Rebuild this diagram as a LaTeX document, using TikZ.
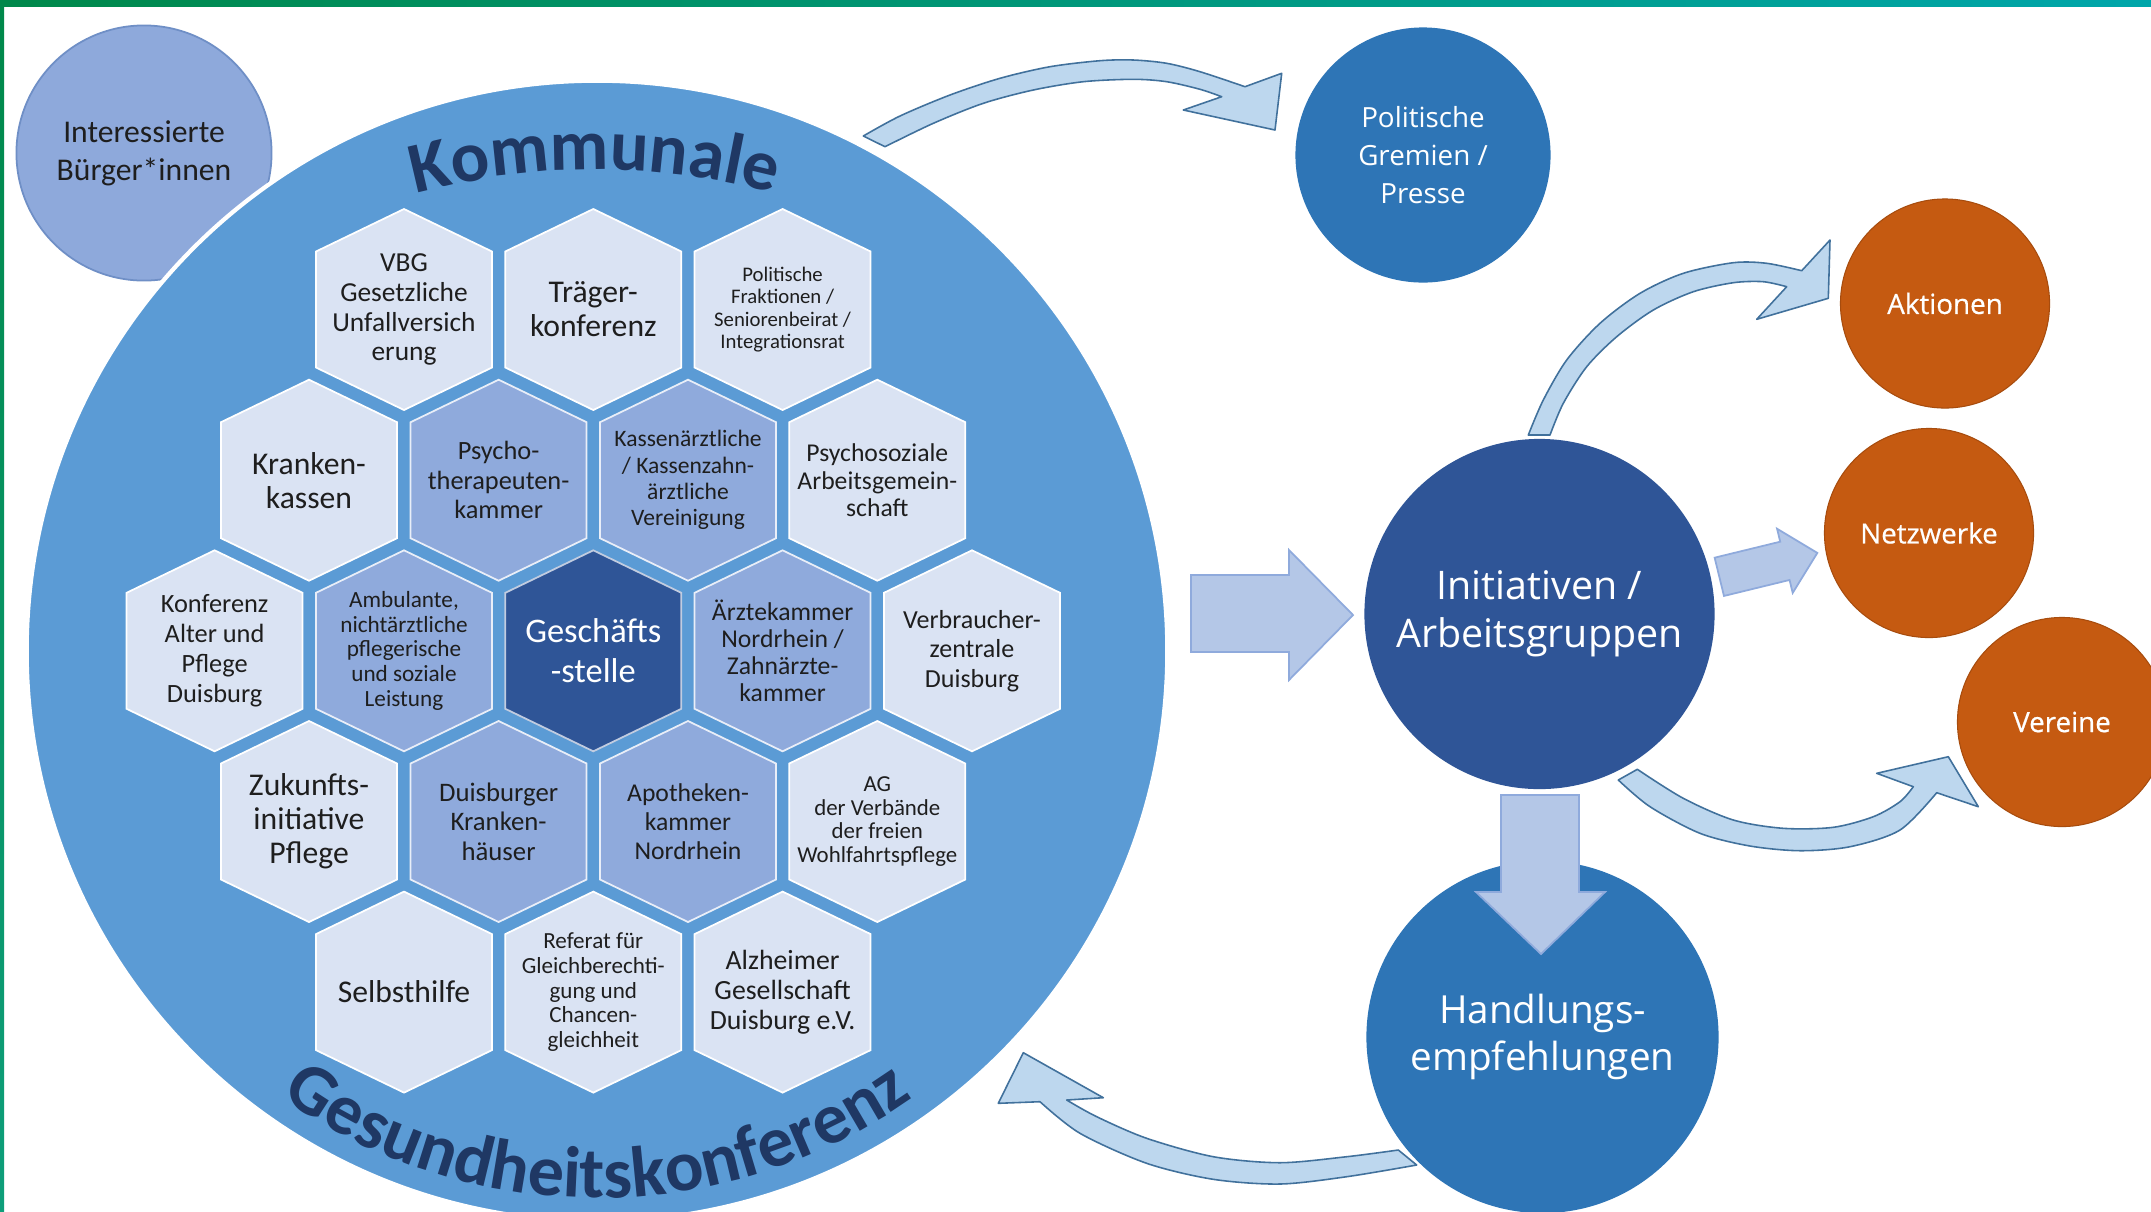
\documentclass[tikz,border=0pt]{standalone}
\usepackage{fontspec}
\setmainfont{Carlito}
\newfontfamily\osans{Open Sans}
\newfontfamily\osemi[FakeBold=0.5]{Open Sans}
\usetikzlibrary{decorations.text}
\definecolor{bigblue}{HTML}{5B9BD5}
\definecolor{hexlight}{HTML}{DAE3F3}
\definecolor{hexmid}{HTML}{8FAADC}
\definecolor{hexdark}{HTML}{2F5597}
\definecolor{hexink}{HTML}{1E1E1E}
\definecolor{navytxt}{HTML}{1F3864}
\definecolor{citizen}{HTML}{8EA9DB}
\definecolor{citizenedge}{HTML}{6F8FC6}
\definecolor{midblue}{HTML}{2E75B6}
\definecolor{darkblue}{HTML}{2F5597}
\definecolor{rust}{HTML}{C55A11}
\definecolor{arrowfill}{HTML}{BDD7EE}
\definecolor{arrowedge}{HTML}{41719C}
\definecolor{blockfill}{HTML}{B4C7E7}
\definecolor{blockedge}{HTML}{8FAADC}
\definecolor{barA}{HTML}{00884A}
\definecolor{barB}{HTML}{00A6AA}
\definecolor{barC}{HTML}{0E9E7A}
\newcommand{\hexcell}[7]{%
  \filldraw[#4] (#2,#3) ++(0,-100.5) -- ++(88,42.5) -- ++(0,116) -- ++(-88,42.5) -- ++(-88,-42.5) -- ++(0,-116) -- cycle;
  \node[hextext, #4 text, font=\fontsize{#5pt}{#6pt}\selectfont] (#1) at (#2,#3) {#7};
}
\begin{document}
\begin{tikzpicture}[x=0.01cm, y=-0.01cm,
  hexL/.style={fill=hexlight, draw=white, line width=0.5pt},
  hexL text/.style={text=hexink},
  hexM/.style={fill=hexmid, draw=white!80!hexmid, line width=0.5pt},
  hexM text/.style={text=hexink},
  hexD/.style={fill=hexdark, draw=white!70!hexdark, line width=0.5pt},
  hexD text/.style={text=white},
  hextext/.style={align=center, inner sep=0pt},
  bubble/.style={circle, inner sep=0pt, align=center, text=white},
  bentarrow/.style={fill=arrowfill, draw=arrowedge, line width=0.45pt, line join=round},
  blockarrow/.style={fill=blockfill, draw=blockedge, line width=0.5pt, line join=miter}]
\useasboundingbox (0,0) rectangle (2151,1211);
\clip (0,0) rectangle (2151,1211);
\fill[white] (0,0) rectangle (2151,1211);

% citizens circle (behind the big circle)
\node[circle, minimum size=2.55cm, inner sep=0pt, fill=citizen, draw=citizenedge, line width=0.5pt,
      align=center, text=hexink, font=\fontsize{9pt}{10.9pt}\selectfont] (citizens) at (144,153) {Interessierte\\Bürger*innen};

% big conference circle
\node[circle, minimum size=11.4cm, inner sep=0pt, fill=bigblue, draw=white, line width=1.2pt] (conf) at (597,651) {};

% hexagons
\hexcell{vbg}{404}{309.5}{hexL}{7.8}{8.5}{VBG\\Gesetzliche\\Unfallversich\\erung}
\hexcell{traeger}{593.3}{309.5}{hexL}{9}{9.7}{Träger-\\konferenz}
\hexcell{fraktionen}{782.6}{309.5}{hexL}{5.9}{6.35}{Politische\\Fraktionen /\\Seniorenbeirat /\\Integrationsrat}
\hexcell{kassen}{309}{480.2}{hexL}{9}{9.7}{Kranken-\\kassen}
\hexcell{psychokammer}{498.6}{480.2}{hexM}{7.5}{8.4}{Psycho-\\therapeuten-\\kammer}
\hexcell{kv}{688}{480.2}{hexM}{6.7}{7.5}{Kassenärztliche\\/ Kassenzahn-\\ärztliche\\Vereinigung}
\hexcell{psag}{877.3}{480.2}{hexL}{7.3}{7.9}{Psychosoziale\\Arbeitsgemein-\\schaft}
\hexcell{kap}{214.6}{650.8}{hexL}{7.5}{8.55}{Konferenz\\Alter und\\Pflege\\Duisburg}
\hexcell{ambulant}{404}{650.8}{hexM}{6.6}{7}{Ambulante,\\nichtärztliche\\pflegerische\\und soziale\\Leistung}
\hexcell{office}{593.3}{650.8}{hexD}{9.8}{11.3}{Geschäfts\\-stelle}
\hexcell{aek}{782.6}{650.8}{hexM}{7.3}{7.6}{Ärztekammer\\Nordrhein /\\Zahnärzte-\\kammer}
\hexcell{vz}{972}{650.8}{hexL}{7.4}{8.4}{Verbraucher-\\zentrale\\Duisburg}
\hexcell{zip}{309}{821.5}{hexL}{9}{9.7}{Zukunfts-\\initiative\\Pflege}
\hexcell{kh}{498.6}{821.5}{hexM}{7.6}{8.4}{Duisburger\\Kranken-\\häuser}
\hexcell{akn}{688}{821.5}{hexM}{7.3}{8.3}{Apotheken-\\kammer\\Nordrhein}
\hexcell{agw}{877.3}{821.5}{hexL}{6.5}{6.8}{AG\\der Verbände\\der freien\\Wohlfahrtspflege}
\hexcell{shilfe}{404}{992.1}{hexL}{9}{9.7}{Selbsthilfe}
\hexcell{referat}{593.3}{992.1}{hexL}{6.56}{7}{Referat für\\Gleichberechti-\\gung und\\Chancen-\\gleichheit}
\hexcell{alz}{782.6}{992.1}{hexL}{7.9}{8.5}{Alzheimer\\Gesellschaft\\Duisburg e.V.}

% arched titles
\path[decorate, decoration={text along path, text align=center, text color=navytxt,
      text={|\fontsize{20.5pt}{24pt}\selectfont\bfseries|Kommunale}}]
  (595,870) ++(255:700) arc[start angle=255, end angle=285, radius=700];
\path[decorate, decoration={text along path, text align=center, text color=navytxt,
      text={|\fontsize{20.5pt}{24pt}\selectfont\bfseries|Gesundheitskonferenz}}]
  (597,651) ++(130:547) arc[start angle=130, end angle=50, radius=547];

% right-hand circles
\node[bubble, minimum size=2.55cm, fill=midblue, font=\osans\fontsize{7.9pt}{10.9pt}\selectfont] (press) at (1423,155) {Politische\\Gremien /\\Presse};
\node[bubble, minimum size=3.5cm, fill=darkblue, font=\osans\fontsize{11.2pt}{13.6pt}\selectfont] (groups) at (1539.5,614) {Initiativen /\\Arbeitsgruppen};
\node[bubble, minimum size=3.52cm, fill=midblue, font=\osans\fontsize{11pt}{13.6pt}\selectfont] (advice) at (1542.5,1037) {Handlungs-\\empfehlungen};
\node[bubble, minimum size=2.09cm, fill=rust, draw=rust!85!black, line width=0.3pt, font=\osemi\fontsize{7.9pt}{9pt}\selectfont] (actions) at (1945,303.5) {Aktionen};
\node[bubble, minimum size=2.09cm, fill=rust, draw=rust!85!black, line width=0.3pt, font=\osemi\fontsize{7.9pt}{9pt}\selectfont] (networks) at (1929,533) {Netzwerke};
\node[bubble, minimum size=2.09cm, fill=rust, draw=rust!85!black, line width=0.3pt, font=\osemi\fontsize{7.9pt}{9pt}\selectfont] (clubs) at (2062,722) {Vereine};

% straight block arrows
\filldraw[blockarrow] (1191,575) -- (1289,575) -- (1289,550) -- (1353,615) -- (1289,680) -- (1289,652) -- (1191,652) -- cycle;
\filldraw[blockarrow] (1501,795) -- (1579,795) -- (1579,892) -- (1605,892) -- (1541,954) -- (1476,892) -- (1501,892) -- cycle;
\begin{scope}[shift={(1719.3,576.8)}, rotate=13.7]
\filldraw[blockarrow] (0,-19.7) -- (67.5,-19.7) -- (67.5,-33) -- (100.9,0) -- (67.5,33) -- (67.5,19.7) -- (0,19.7) -- cycle;
\end{scope}

% curved arrows
\filldraw[bentarrow] plot[smooth] coordinates {(863.3,136) (900,116) (950,95) (1000,78.3) (1050,66.7) (1100,60.7) (1133.3,60) (1166.7,63.3) (1200,71.7) (1245,86.7)}
  -- (1281.7,73.3) -- (1275,130) -- (1183.3,110)
  -- plot[smooth] coordinates {(1221.7,96.7) (1200,89.3) (1166.7,81.7) (1133.3,79.3) (1083.3,81.7) (1033.3,90) (983.3,103.3) (933.3,123.3) (885,146.7)} -- cycle;

\filldraw[bentarrow] plot[smooth] coordinates {(1398.3,1150) (1346.7,1156.7) (1280,1162.7) (1213.3,1156.7) (1146.7,1138.3) (1096.7,1116.7) (1066.7,1100)}
  -- (1103.3,1097.7) -- (1023.3,1052.7) -- (998.3,1103.3)
  -- plot[smooth] coordinates {(1040,1101.7) (1080,1133.3) (1146.7,1163.3) (1213.3,1179.3) (1280,1184) (1346.7,1176.7) (1416.7,1165)} -- cycle;

\filldraw[bentarrow] plot[smooth] coordinates {(1528.3,435) (1543.3,400) (1566.7,360) (1600,323.3) (1640,293.3) (1683.3,273.3) (1733.3,262.7) (1766.7,263.3) (1801.7,270.7)}
  -- (1830,240) -- (1828.3,298.3) -- (1756.7,319.3)
  -- plot[smooth] coordinates {(1786.7,286.7) (1763.3,281.7) (1733.3,282.7) (1693.3,291.7) (1653.3,310) (1616.7,336.7) (1586.7,366.7) (1563.3,403.3) (1550,435)} -- cycle;

\filldraw[bentarrow] plot[smooth] coordinates {(1637.3,769.3) (1683.3,798.3) (1733.3,820) (1783.3,828.3) (1833.3,827.3) (1873.3,816.7) (1900,801.7) (1913.3,786.7)}
  -- (1876.7,773.3) -- (1948.3,756.7) -- (1978.3,806.7)
  -- plot[smooth] coordinates {(1936.7,792.7) (1900,830) (1850,846.7) (1800,850.7) (1750,846) (1700,833.3) (1650,806.7) (1618.3,780)} -- cycle;

% frame bars
\shade[left color=barA, right color=barB] (0,0) rectangle (2151,6);
\shade[top color=barA, bottom color=barC] (0,0) rectangle (4,1211);
\end{tikzpicture}
\end{document}
